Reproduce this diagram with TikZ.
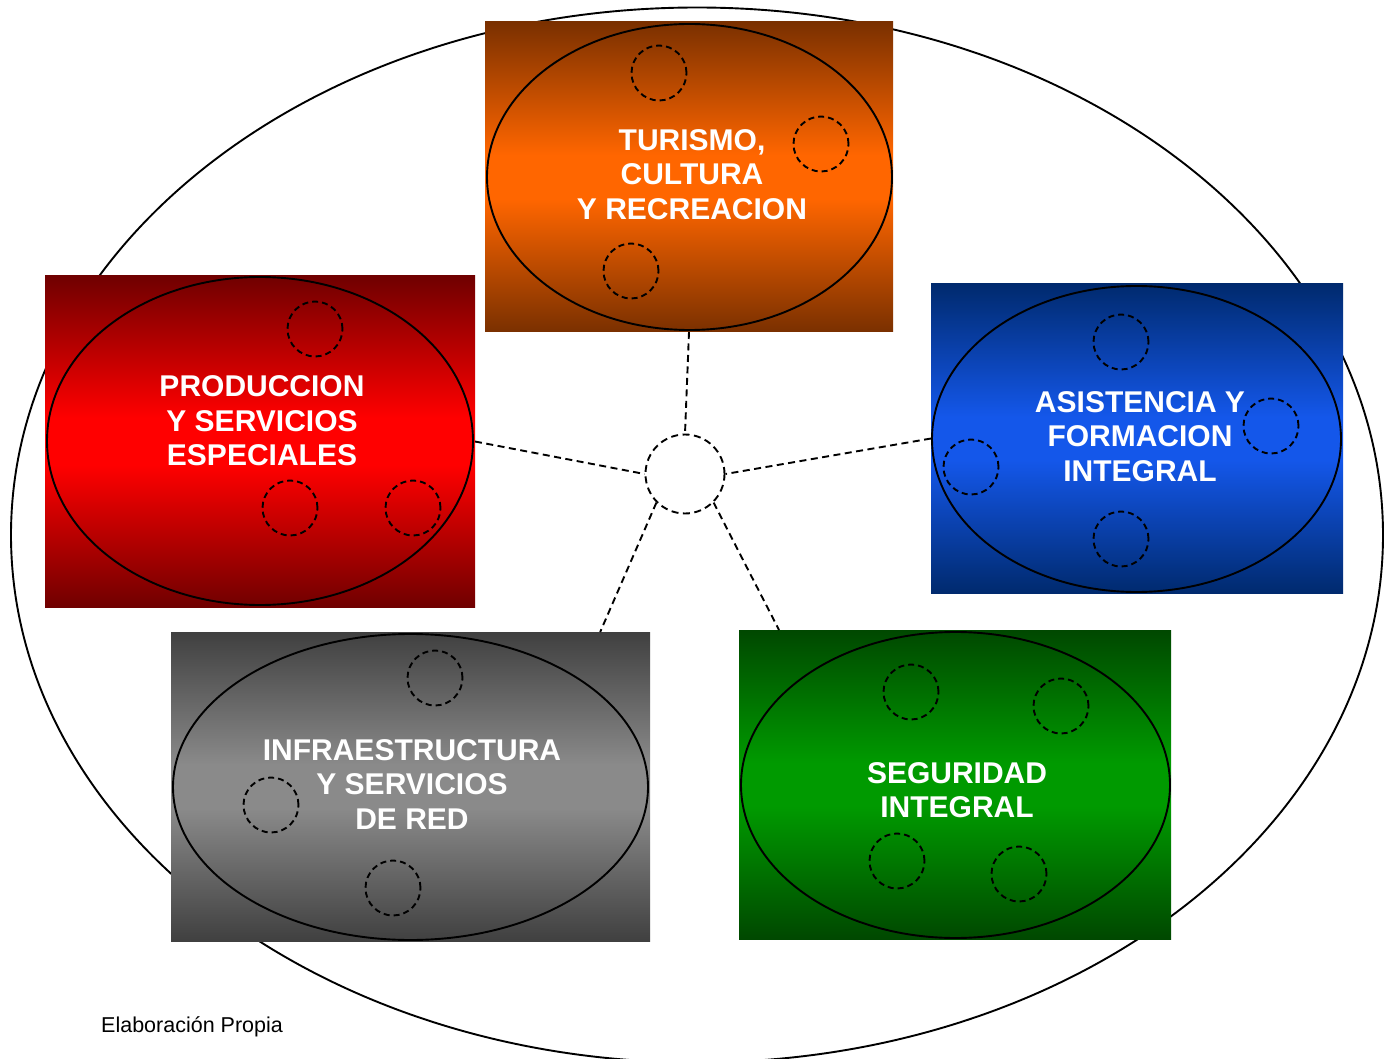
\documentclass[tikz,border=0pt]{standalone}
\usepackage{fontspec}
\setmainfont{Liberation Sans}
\usetikzlibrary{calc,shapes.geometric}
\definecolor{orDark}{HTML}{7A3000}
\definecolor{orLight}{HTML}{FF6600}
\definecolor{rdDark}{HTML}{700000}
\definecolor{rdLight}{HTML}{FF0000}
\definecolor{blDark}{HTML}{002A6E}
\definecolor{blLight}{HTML}{1457EA}
\definecolor{gyDark}{HTML}{404040}
\definecolor{gyLight}{HTML}{8A8A8A}
\definecolor{gnDark}{HTML}{004800}
\definecolor{gnLight}{HTML}{009A00}
\pgfdeclareverticalshading{orShade}{100bp}{color(0bp)=(orDark); color(25bp)=(orDark); color(46.5bp)=(orLight); color(53.5bp)=(orLight); color(75bp)=(orDark); color(100bp)=(orDark)}
\pgfdeclareverticalshading{rdShade}{100bp}{color(0bp)=(rdDark); color(25bp)=(rdDark); color(46.5bp)=(rdLight); color(53.5bp)=(rdLight); color(75bp)=(rdDark); color(100bp)=(rdDark)}
\pgfdeclareverticalshading{blShade}{100bp}{color(0bp)=(blDark); color(25bp)=(blDark); color(46.5bp)=(blLight); color(53.5bp)=(blLight); color(75bp)=(blDark); color(100bp)=(blDark)}
\pgfdeclareverticalshading{gyShade}{100bp}{color(0bp)=(gyDark); color(25bp)=(gyDark); color(46.5bp)=(gyLight); color(53.5bp)=(gyLight); color(75bp)=(gyDark); color(100bp)=(gyDark)}
\pgfdeclareverticalshading{gnShade}{100bp}{color(0bp)=(gnDark); color(25bp)=(gnDark); color(46.5bp)=(gnLight); color(53.5bp)=(gnLight); color(75bp)=(gnDark); color(100bp)=(gnDark)}
\begin{document}
\begin{tikzpicture}[x=1pt,y=-1pt,
  panel/.style={rectangle, inner sep=0pt, outer sep=0pt, draw=none, shade, shading=#1},
  ring/.style={ellipse, draw=black, line width=1.9pt, inner sep=0pt},
  label/.style={text=white, font=\bfseries\fontsize{30}{34.5}\selectfont, align=center, inner sep=0pt},
  dotring/.style={draw=black, line width=1.9pt, dash pattern=on 6pt off 4pt},
  link/.style={draw=black, line width=1.9pt, dash pattern=on 7pt off 4.5pt}]
\useasboundingbox (0,0) rectangle (1393,1059);
\clip (0,0) rectangle (1393,1059);
\fill[white] (0,0) rectangle (1393,1059);
% outer ellipse
\node[ellipse, draw=black, line width=1.9pt, inner sep=0pt, minimum width=1372pt, minimum height=1055pt] (world) at (697,535) {};

% panels
\node[panel=orShade, minimum width=408pt, minimum height=310pt] (top) at (689,177) {};
\node[panel=rdShade, minimum width=430pt, minimum height=331pt] (red) at (260,441.5) {};
\node[panel=blShade, minimum width=412pt, minimum height=309pt] (blue) at (1137,438.5) {};
\node[panel=gyShade, minimum width=479pt, minimum height=309pt] (gray) at (410.5,786.5) {};
\node[panel=gnShade, minimum width=432pt, minimum height=309pt] (green) at (955,784.5) {};

% inner ellipses
\node[ring, minimum width=405pt, minimum height=306pt] (topE) at (689.5,177) {};
\node[ring, minimum width=426pt, minimum height=328pt] (redE) at (260,441) {};
\node[ring, minimum width=409pt, minimum height=306pt] (blueE) at (1136.5,439) {};
\node[ring, minimum width=475pt, minimum height=306pt] (grayE) at (410.5,787) {};
\node[ring, minimum width=429pt, minimum height=306pt] (greenE) at (955.5,785) {};

% small dashed circles
\foreach \cx/\cy in {659/73, 821/144, 631/271,
                     315/329, 290/508, 413/508,
                     1121/342, 1271/426, 971/467, 1121/539,
                     435/678, 271/805, 393/888,
                     911/692, 1061/706, 897/861, 1019/874}
  \draw[dotring] (\cx,\cy) circle[radius=27.5pt];

% labels
\node[label] (topT) at (692,174.25) {TURISMO,\\CULTURA\\Y RECREACION};
\node[label] (redT) at (262,420.75) {PRODUCCION\\Y SERVICIOS\\ESPECIALES};
\node[label] (blueT) at (1140,436.25) {ASISTENCIA Y\\FORMACION\\INTEGRAL};
\node[label] (grayT) at (412,784.25) {INFRAESTRUCTURA\\Y SERVICIOS\\DE RED};
\node[label] (greenT) at (957,790.25) {SEGURIDAD\\INTEGRAL};

% hub and connectors
\node[circle, link, minimum size=79pt, inner sep=0pt] (hub) at (685,474) {};
\draw[link] (top.south) -- (hub.north);
\draw[link] (red.east) -- (hub.west);
\draw[link] (blue.west) -- (hub.east);
\draw[link] (hub.-135) -- ($(gray.north west)!0.896!(gray.north east)$);
\draw[link] (hub.-45) -- ($(green.north west)!0.0926!(green.north east)$);

% source note
\node[anchor=base west, inner sep=0pt, font=\fontsize{21.5}{25}\selectfont] (note) at (101,1032) {Elaboración Propia};
\end{tikzpicture}
\end{document}
